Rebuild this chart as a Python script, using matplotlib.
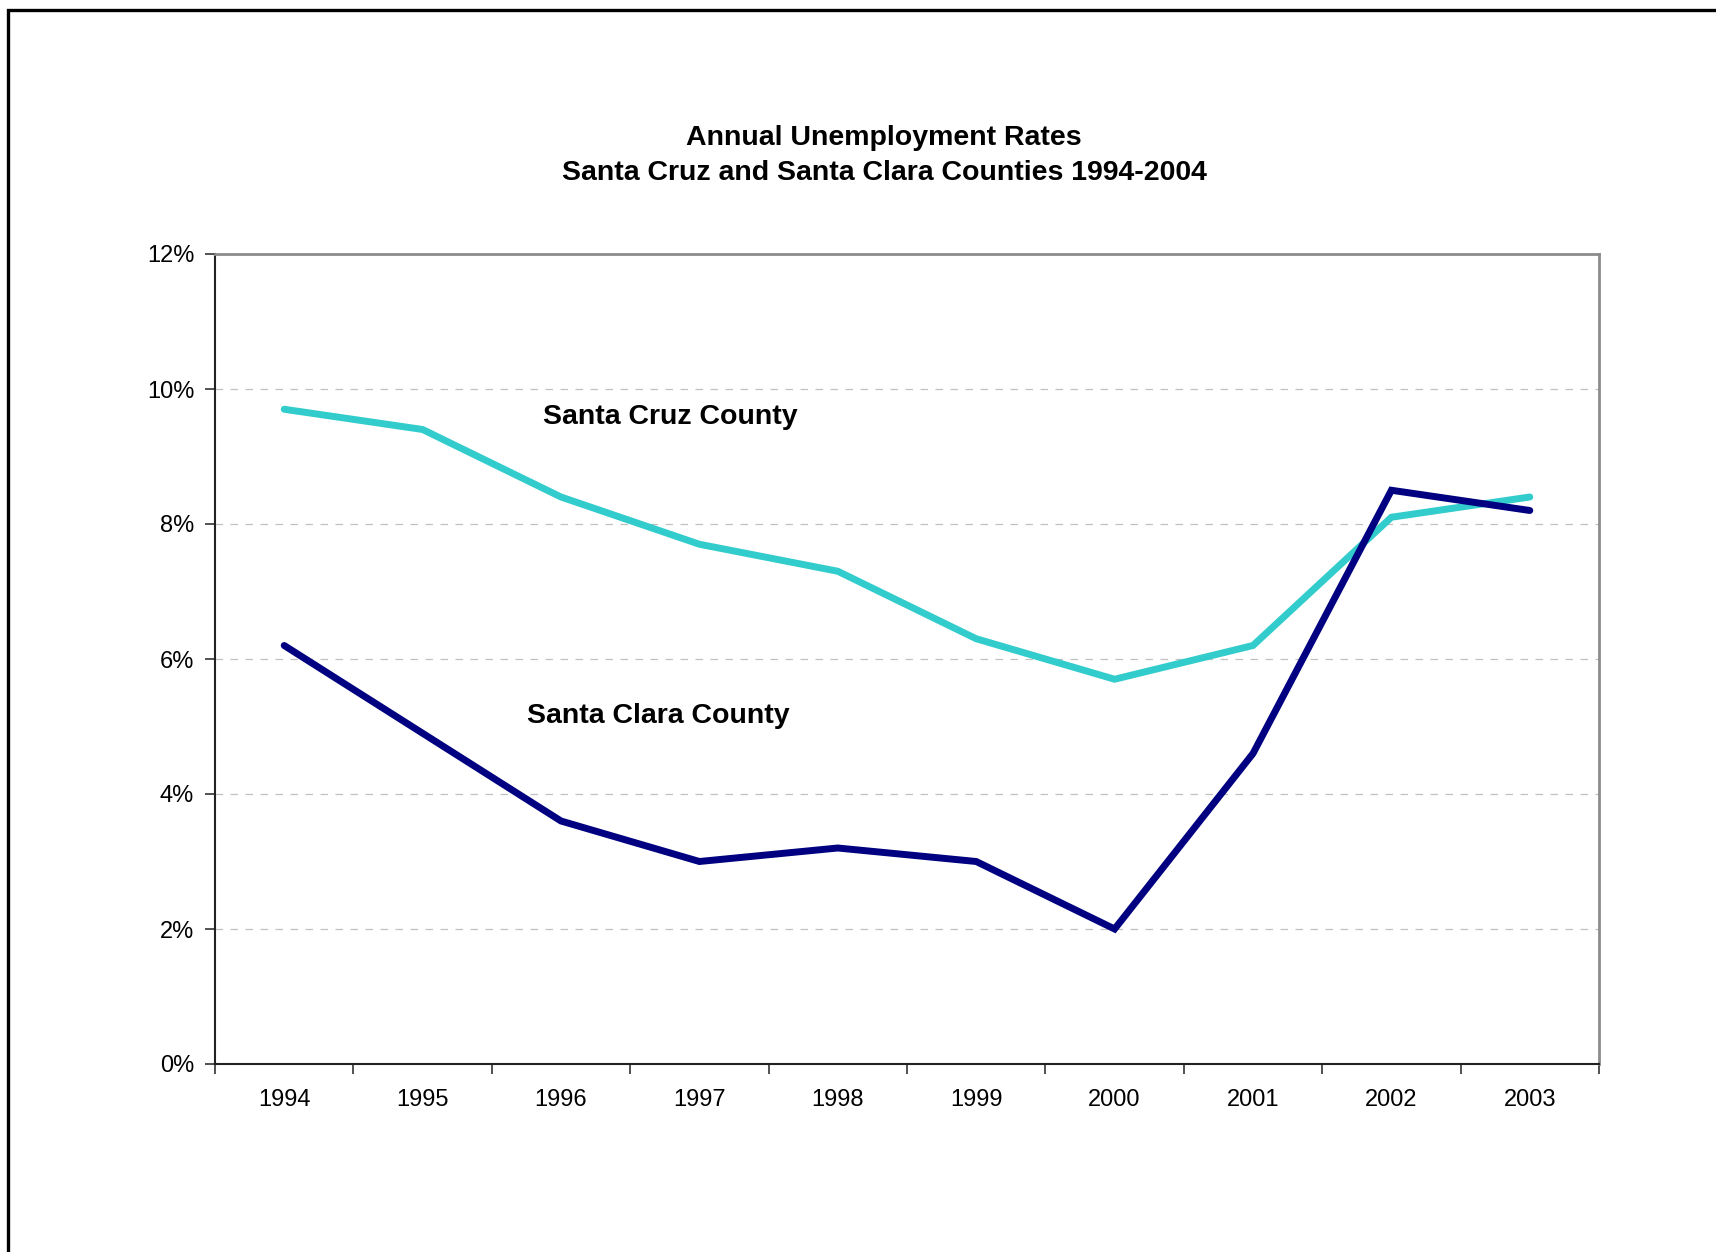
import matplotlib
matplotlib.use("Agg")
import matplotlib.pyplot as plt
from matplotlib.patches import Rectangle
from matplotlib.ticker import FixedLocator, PercentFormatter

plt.rcParams['font.family'] = ['Liberation Sans', 'DejaVu Sans']

years = ["1994", "1995", "1996", "1997", "1998", "1999", "2000", "2001", "2002", "2003"]
santa_cruz = [9.7, 9.4, 8.4, 7.7, 7.3, 6.3, 5.7, 6.2, 8.1, 8.4]
santa_clara = [6.2, 4.9, 3.6, 3.0, 3.2, 3.0, 2.0, 4.6, 8.5, 8.2]
y_ticks = [0, 2, 4, 6, 8, 10, 12]

W, H = 1716, 1252
fig = plt.figure(figsize=(W / 100, H / 100), dpi=100)
fig.patch.set_facecolor("white")

# outer chart frame
fig.patches.append(Rectangle((8 / W, -0.05), 1.2, 1 - 10 / H + 0.05,
                             transform=fig.transFigure, fill=False,
                             edgecolor="black", linewidth=2.4, clip_on=False))

ax = fig.add_axes([215 / W, 188 / H, (1599 - 215) / W, (1064 - 254) / H])
x = list(range(len(years)))

ax.plot(x, santa_cruz, color="#33CCCC", linewidth=5.0, solid_capstyle="round",
        solid_joinstyle="miter", zorder=3)
ax.plot(x, santa_clara, color="#000080", linewidth=5.0, solid_capstyle="round",
        solid_joinstyle="miter", zorder=4)

ax.set_xlim(-0.5, len(years) - 0.5)
ax.set_ylim(0, 12)

ax.set_xticks(x)
ax.set_xticklabels(years, fontsize=17)
ax.xaxis.set_minor_locator(FixedLocator([i - 0.5 for i in range(len(years) + 1)]))
ax.tick_params(axis="x", which="major", length=0, pad=18)
ax.tick_params(axis="x", which="minor", length=7, width=1.2, color="#333333",
               direction="out")

ax.set_yticks(y_ticks)
ax.yaxis.set_major_formatter(PercentFormatter(decimals=0))
ax.tick_params(axis="y", which="major", length=7, width=1.2, color="#333333",
               labelsize=17, pad=8, direction="out")

ax.grid(axis="y", color="#C0C0C0", linestyle=(0, (6, 6)), linewidth=0.9)
ax.set_axisbelow(True)

for side in ("top", "right"):
    ax.spines[side].set_color("#8C8C8C")
    ax.spines[side].set_linewidth(2.0)
for side in ("left", "bottom"):
    ax.spines[side].set_color("#222222")
    ax.spines[side].set_linewidth(1.5)

ax.text(2.79, 9.59, "Santa Cruz County", fontsize=20.5, fontweight="bold",
        ha="center", va="center")
ax.text(2.70, 5.15, "Santa Clara County", fontsize=20.5, fontweight="bold",
        ha="center", va="center")

fig.text(884 / W, 1 - 138 / H, "Annual Unemployment Rates", fontsize=20.5,
         fontweight="bold", ha="center", va="center")
fig.text(884 / W, 1 - 173 / H, "Santa Cruz and Santa Clara Counties 1994-2004",
         fontsize=20.5, fontweight="bold", ha="center", va="center")

fig.savefig("out.png", dpi=100)
